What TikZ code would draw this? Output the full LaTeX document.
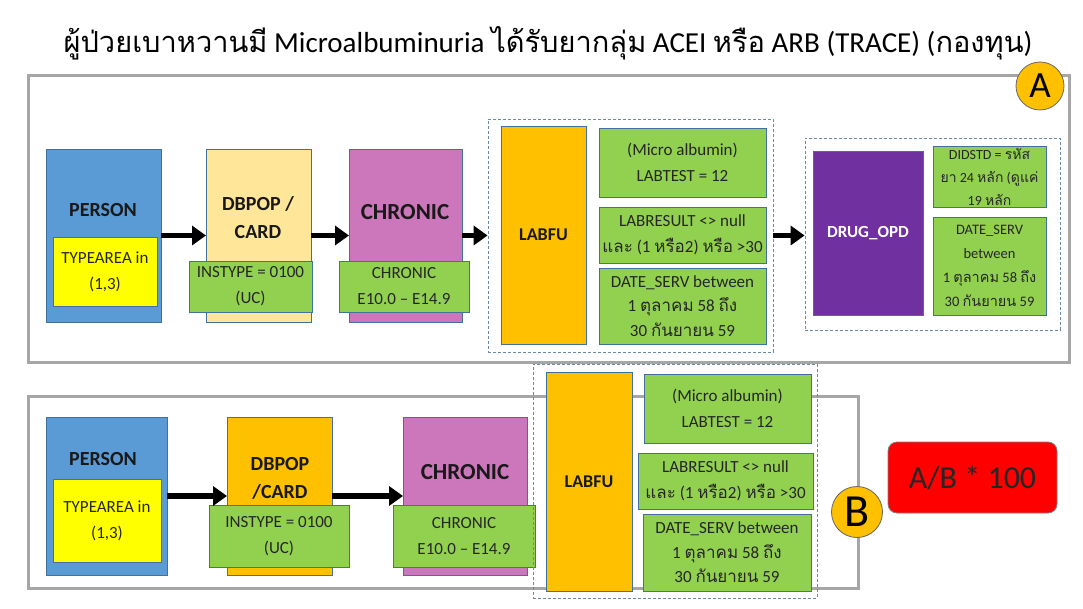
\documentclass[tikz,border=0pt]{standalone}
\usepackage{fontspec}
\setmainfont{Carlito}
\newfontfamily\thaifont[Script=Thai]{Loma}
\newcommand{\tf}[1]{{\thaifont #1}}
\usetikzlibrary{arrows.meta}
\definecolor{cblue}{HTML}{5B9BD5}
\definecolor{cbluebd}{HTML}{41719C}
\definecolor{clyel}{HTML}{FFE699}
\definecolor{cpink}{HTML}{CC76BC}
\definecolor{cgreen}{HTML}{92D050}
\definecolor{cyel}{HTML}{FFFF00}
\definecolor{corange}{HTML}{FFC000}
\definecolor{cpurple}{HTML}{7030A0}
\definecolor{cred}{HTML}{FF0000}
\definecolor{cframe}{HTML}{A6A6A6}
\definecolor{cdash}{HTML}{6A8AAA}
\definecolor{ctext}{HTML}{262626}
\tikzset{
  rbox/.style={draw=cbluebd, line width=0.8pt, inner sep=0pt, outer sep=0pt},
  gbox/.style={rbox, fill=cgreen, align=center, text=ctext, font=\fontsize{17}{26}\selectfont},
  frame/.style={draw=cframe, line width=3pt},
  grp/.style={draw=cdash, dashed, line width=0.8pt, dash pattern=on 3pt off 2pt},
  big/.style={font=\bfseries\fontsize{20}{28}\selectfont, align=center, text=black!90},
  arr/.style={line width=5.5pt, -{Triangle[length=14pt,width=19pt]}},
  circ/.style={circle, draw=black!60, line width=0.8pt, fill=corange, inner sep=0pt, minimum size=48pt, font=\fontsize{37}{37}\selectfont},
}
\newcommand{\bx}[7]{\node[#6, minimum width={(#4-#2)*1pt}, minimum height={(#5-#3)*1pt}] (#1) at ({(#2+#4)/2},{(#3+#5)/2}) {#7};}
\begin{document}
\begin{tikzpicture}[x=1pt,y=-1pt]
\useasboundingbox (0,0) rectangle (1083,609);
% title
\node[font=\fontsize{29}{34}\selectfont, text=black] (title) at (548,43) {\tf{ผู้ป่วยเบาหวานมี} Microalbuminuria \tf{ได้รับยากลุ่ม} ACEI \tf{หรือ} ARB (TRACE) (\tf{กองทุน})};
% frames
\bx{frameA}{28}{76}{1069}{362}{frame}{}
\bx{frameB}{28}{396}{858}{588}{frame}{}
% ---------- row A ----------
\bx{pA}{46}{149}{161}{322}{rbox, fill=cblue}{}
\node[big] (pAt) at (103,210) {PERSON};
\bx{tA}{53}{237}{157}{306}{gbox, fill=cyel}{TYPEAREA in\\(1,3)}
\bx{dA}{206}{149}{311}{322}{rbox, fill=clyel}{}
\node[big] (dAt) at (258,218) {DBPOP /\\CARD};
\bx{iA}{189}{261}{312}{312}{gbox}{INSTYPE = 0100\\(UC)}
\bx{cA}{349}{149}{462}{322}{rbox, fill=cpink}{}
\node[big, font=\bfseries\fontsize{23}{28}\selectfont] (cAt) at (405,212) {CHRONIC};
\bx{eA}{339}{261}{469}{312}{gbox}{CHRONIC\\E10.0 -- E14.9}
\bx{gA}{488}{119}{773}{352}{grp}{}
\bx{lA}{501}{126}{586}{344}{rbox, fill=corange, big, font=\bfseries\fontsize{18}{22}\selectfont}{LABFU}
\bx{l1A}{599}{128}{766}{197}{gbox}{(Micro albumin)\\LABTEST = 12}
\bx{l2A}{599}{207}{766}{263}{gbox}{LABRESULT <> null\\\tf{และ} (1 \tf{หรือ}2) \tf{หรือ} >30}
\bx{l3A}{599}{268}{766}{344}{gbox, font=\fontsize{17}{24.5}\selectfont}{DATE\_SERV between\\1 \tf{ตุลาคม} 58 \tf{ถึง}\\30 \tf{กันยายน} 59}
\bx{hA}{805}{138}{1060}{330}{grp}{}
\bx{drA}{813}{151}{923}{315}{rbox, fill=cpurple, font=\bfseries\fontsize{17}{20}\selectfont, text=white}{DRUG\_OPD}
\bx{d1A}{933}{146}{1046}{207}{gbox, font=\fontsize{14}{23}\selectfont}{DIDSTD = \tf{รหัส}\\\tf{ยา} 24 \tf{หลัก} (\tf{ดูแค่}\\19 \tf{หลัก}}
\bx{d2A}{933}{217}{1046}{315}{gbox, font=\fontsize{14.5}{24}\selectfont}{DATE\_SERV\\between\\1 \tf{ตุลาคม} 58 \tf{ถึง}\\30 \tf{กันยายน} 59}
\draw[arr] (pA.east) -- (pA.east -| dA.west);
\draw[arr] (dA.east) -- (dA.east -| cA.west);
\draw[arr] (cA.east) -- (cA.east -| gA.west);
\draw[arr] (gA.east) -- (gA.east -| hA.west);
\node[circ] (circA) at (1040,86) {A};
% ---------- row B ----------
\bx{pB}{46}{417}{167}{575}{rbox, fill=cblue}{}
\node[big] (pBt) at (103,459) {PERSON};
\bx{tB}{53}{479}{161}{562}{gbox, fill=cyel}{TYPEAREA in\\(1,3)}
\bx{dB}{227}{417}{332}{575}{rbox, fill=corange}{}
\node[big] (dBt) at (280,478) {DBPOP\\/CARD};
\bx{iB}{209}{505}{349}{567}{gbox}{INSTYPE = 0100\\(UC)}
\bx{cB}{403}{417}{527}{575}{rbox, fill=cpink}{}
\node[big, font=\bfseries\fontsize{23}{28}\selectfont] (cBt) at (465,472) {CHRONIC};
\bx{eB}{393}{505}{535}{567}{gbox}{CHRONIC\\E10.0 -- E14.9}
\bx{gB}{533}{364}{817}{598}{grp}{}
\bx{lB}{546}{372}{632}{591}{rbox, fill=corange, big, font=\bfseries\fontsize{18}{22}\selectfont}{LABFU}
\bx{l1B}{644}{374}{811}{443}{gbox}{(Micro albumin)\\LABTEST = 12}
\bx{l2B}{638}{453}{813}{509}{gbox}{LABRESULT <> null\\\tf{และ} (1 \tf{หรือ}2) \tf{หรือ} >30}
\bx{l3B}{643}{514}{811}{591}{gbox, font=\fontsize{17}{24.5}\selectfont}{DATE\_SERV between\\1 \tf{ตุลาคม} 58 \tf{ถึง}\\30 \tf{กันยายน} 59}
\draw[arr] (pB.east) -- (pB.east -| dB.west);
\draw[arr] (dB.east) -- (dB.east -| cB.west);
\node[circ, minimum size=51pt, font=\fontsize{46}{46}\selectfont] (circB) at (857,512) {B};
\bx{res}{888}{442}{1057}{513}{rbox, draw=black!50, fill=cred, rounded corners=9pt, font=\fontsize{32}{32}\selectfont, text=black!85}{A/B * 100}
\end{tikzpicture}
\end{document}
